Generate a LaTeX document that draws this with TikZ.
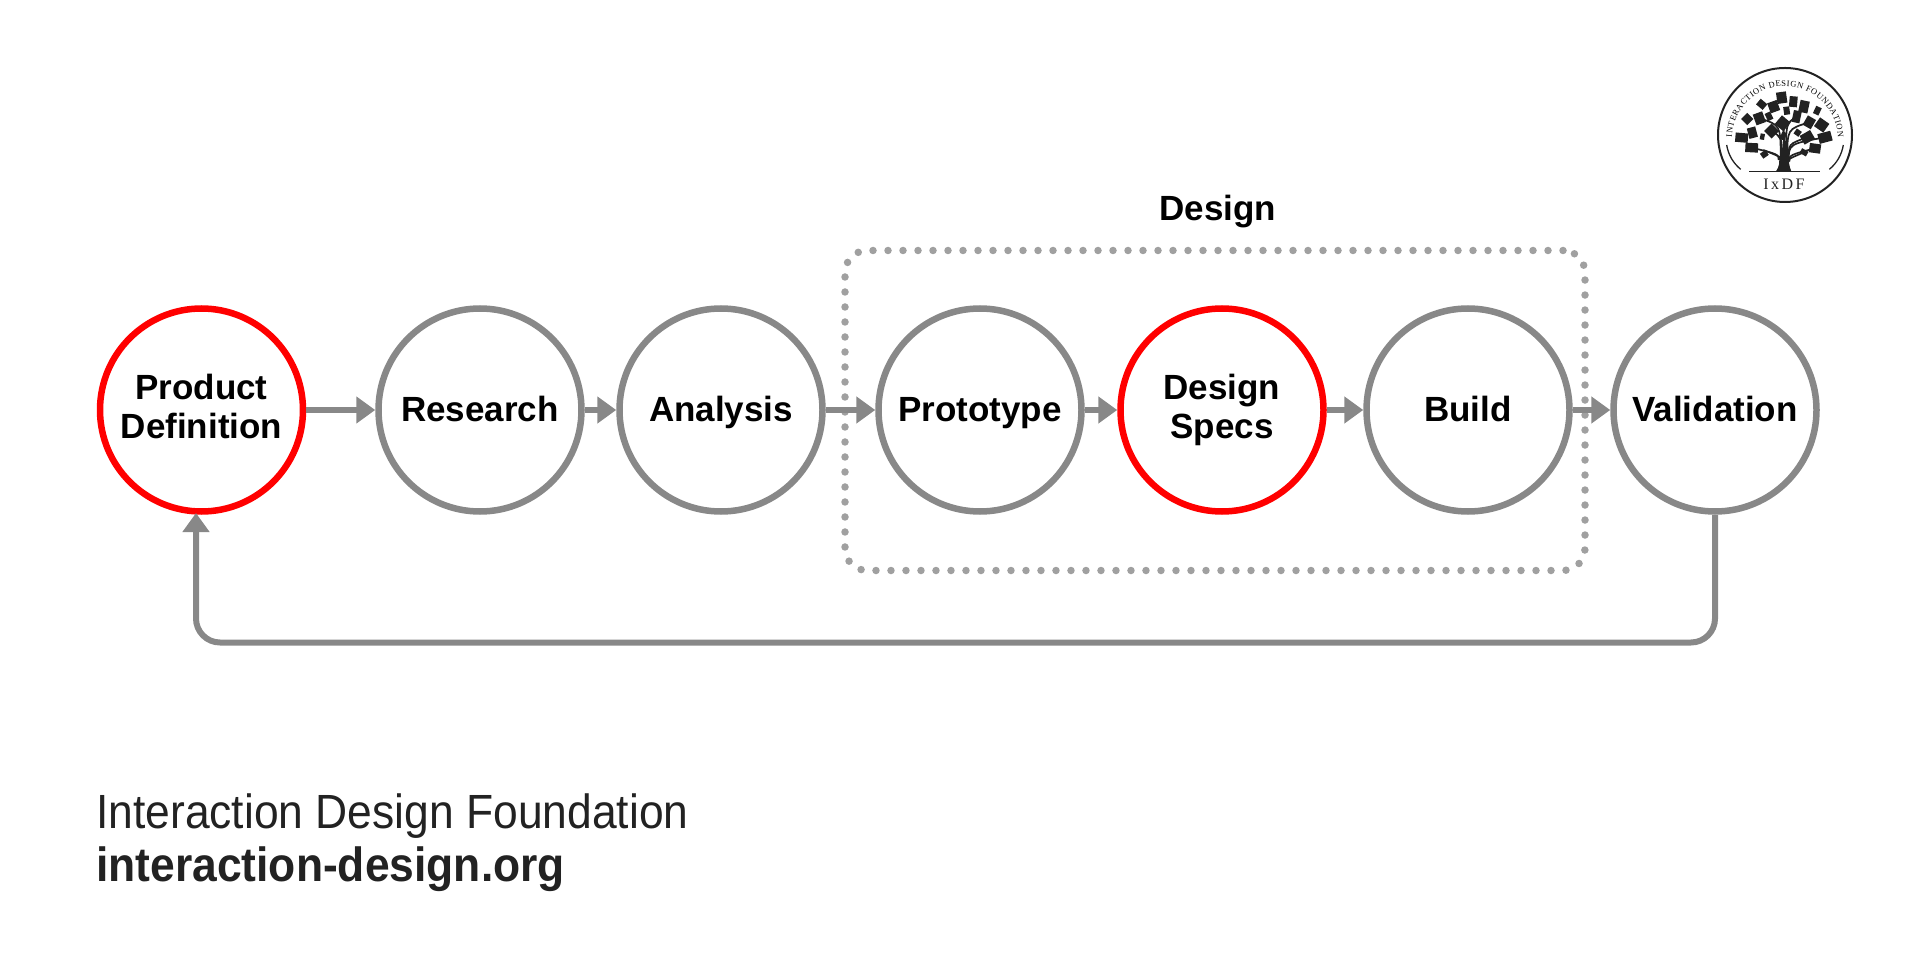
\documentclass[tikz,border=0pt]{standalone}
\usepackage{fontspec}
\setmainfont{Liberation Sans}
\newfontfamily\logofont{Liberation Serif}
\usetikzlibrary{arrows.meta,decorations.text}
\definecolor{flowgray}{HTML}{888888}
\definecolor{dotgray}{HTML}{A0A0A0}
\definecolor{hotred}{HTML}{FF0000}
\definecolor{inkdark}{HTML}{222222}
\newcommand\oneline[1]{\rule[-3pt]{0pt}{29pt}\smash{#1}}
\newcommand\twolines[2]{\rule{0pt}{26pt}\smash{#1}\\\rule[-9pt]{0pt}{9pt}\smash{#2}}
\tikzset{
  stage/.style={circle,draw=flowgray,line width=6.5pt,fill=white,minimum size=203pt,inner sep=0pt,outer sep=3.25pt,align=center,font=\fontsize{35}{39}\selectfont\bfseries},
  keystage/.style={stage,draw=hotred},
  flow/.style={draw=flowgray,line width=6pt,-{Triangle[length=19pt,width=26pt]}},
  groupbox/.style={draw=dotgray,line width=7.5pt,line cap=round,dash pattern=on 0pt off 15pt,rounded corners=22pt,inner sep=0pt,minimum width=740pt,minimum height=320pt},
  book/.style={fill=inkdark,draw=none}
}
\begin{document}
\begin{tikzpicture}[x=1pt,y=-1pt]
\useasboundingbox (0,0) rectangle (1920,976);
\node[groupbox] (group) at (1215,410.5) {};
\node[anchor=base,font=\fontsize{35}{39}\selectfont\bfseries,inner sep=0pt] (grouplabel) at (1218,221) {Design};
\node[keystage] (a) at (201.5,410) {\twolines{Product}{Definition}};
\node[stage] (b) at (480,410) {\oneline{Research}};
\node[stage] (c) at (721,410) {\raisebox{-1pt}{\oneline{Analysis}}};
\node[stage] (d) at (980,410) {\oneline{Prototype}};
\node[keystage] (e) at (1222,410) {\twolines{Design}{Specs}};
\node[stage] (f) at (1468,410) {\oneline{Build}};
\node[stage] (g) at (1715,410) {\oneline{Validation}};
\draw[flow] (a) -- (b);
\draw[flow] (b) -- (c);
\draw[flow] (c) -- (d);
\draw[flow] (d) -- (e);
\draw[flow] (e) -- (f);
\draw[flow] (f) -- (g);
\coordinate (backtip) at (196,513);
\draw[flow,rounded corners=24pt] (g.south) -- (1715,642.5) -- (196,642.5) -- (backtip);
\node[anchor=base west,inkdark,font=\fontsize{48}{48}\selectfont,xscale=0.925,inner sep=0pt] (org) at (96,828) {Interaction Design Foundation};
\node[anchor=base west,inkdark,font=\fontsize{48}{48}\selectfont\bfseries,xscale=0.925,inner sep=0pt] (site) at (96,881) {interaction-design.org};
% logo
\begin{scope}[shift={(1700,50)},x=0.3333pt,y=-0.3333pt]
\draw[inkdark,line width=2pt] (255,255) circle[radius=67pt];
\draw[inkdark,line width=1.3pt] (80,285) .. controls (85,315) and (100,340) .. (122,358);
\draw[inkdark,line width=1.3pt] (430,285) .. controls (425,315) and (410,340) .. (388,358);
\draw[inkdark,line width=1.3pt] (148,365) -- (360,365);
\foreach \cx/\cy/\w/\h/\a in {245/143/30/34/8,280/155/24/32/-5,312/170/28/36/-12,352/182/18/24/-25,185/163/26/22/-40,221/170/30/32/20,260/182/18/24/8,142/207/26/26/-45,178/205/30/34/20,207/199/18/24/25,248/220/34/34/-40,290/200/24/36/-12,328/217/28/32/-30,365/225/34/32/-35,157/248/26/32/15,215/243/32/32/45,125/263/38/28/-5,187/260/13/18/-10,293/248/18/18/-35,322/262/36/30/30,375/262/40/30/15,155/293/38/28/-3,345/295/34/28/-8,193/313/20/18/35,312/307/22/16/-30,250/258/15/24/-20}
  {\path[book,shift={(\cx,\cy)},rotate=\a] (-\w/2,-\h/2) rectangle (\w/2,\h/2);}
\fill[inkdark] (228,364) .. controls (238,350) and (240,335) .. (236,318) -- (268,318) .. controls (265,335) and (268,350) .. (274,364) -- cycle;
\foreach \tx/\ty/\sx/\sy in {155/293/236/330,190/300/240/330,215/243/246/325,178/205/242/325,248/220/252/325,290/200/258/325,328/217/262/325,322/262/265/330,375/262/266/335,345/295/268/335,312/307/265/335,250/258/254/325}
  {\draw[inkdark,line width=1.7pt] (\tx,\ty) .. controls (\sx,\ty+20) .. (\sx,\sy);}
\node[inkdark,font=\logofont\fontsize{16}{16}\selectfont,inner sep=0pt] (ixdf) at (252,403) {I\kern2.5pt x\kern2.5pt D\kern2.5pt F};
\path[decorate,decoration={text along path,text align={fit to path},text={|\logofont\fontsize{8.5}{8.5}\selectfont|INTERACTION DESIGN FOUNDATION}}] (96,262) arc[start angle=182,end angle=358,radius=159];
\end{scope}
\end{tikzpicture}
\end{document}
